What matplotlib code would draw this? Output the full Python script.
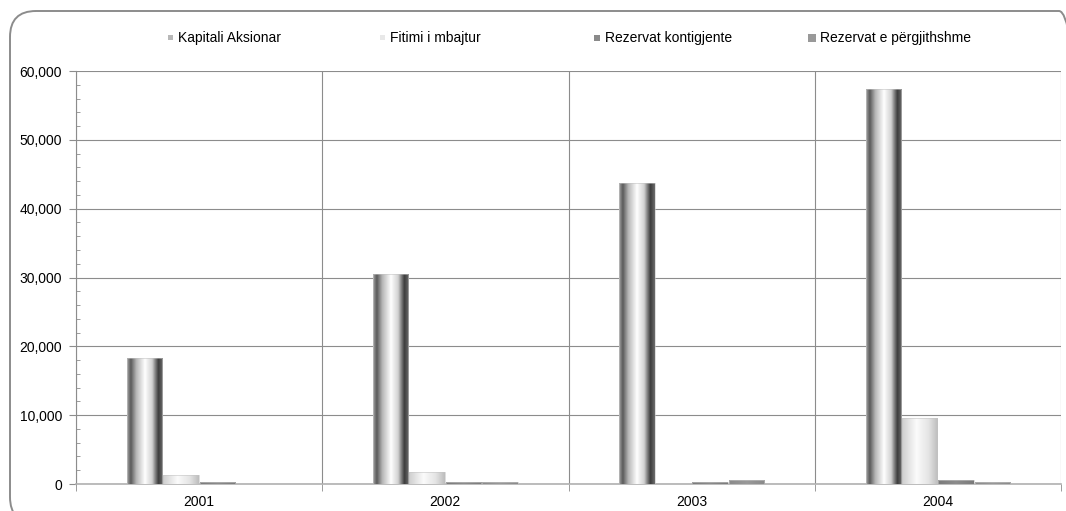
import matplotlib
matplotlib.use('Agg')
import matplotlib.pyplot as plt
import numpy as np
from matplotlib.colors import LinearSegmentedColormap
from matplotlib.patches import FancyBboxPatch, Rectangle
from matplotlib.ticker import FuncFormatter, MultipleLocator

plt.rcParams['font.family'] = ['Liberation Sans', 'DejaVu Sans']

years = ['2001', '2002', '2003', '2004']
series_names = ['Kapitali Aksionar', 'Fitimi i mbajtur', 'Rezervat kontigjente', 'Rezervat e përgjithshme']
kapitali = [18300, 30500, 43700, 57400]
fitimi = [1300, 1700, 0, 9600]
rezervat_k = [300, 300, 300, 600]
rezervat_p = [0, 300, 600, 300]

# shading for each series, left to right across the bar (cylinder look)
cmaps = [
    LinearSegmentedColormap.from_list('kap', [(0, '#a0a0a0'), (0.1, '#5a5a5a'), (0.25, '#b4b4b4'),
                                              (0.5, '#ffffff'), (0.7, '#d2d2d2'), (0.88, '#3c3c3c'),
                                              (1, '#6a6a6a')]),
    LinearSegmentedColormap.from_list('fit', [(0, '#cfcfcf'), (0.4, '#fbfbfb'), (0.75, '#e4e4e4'),
                                              (1, '#bdbdbd')]),
    LinearSegmentedColormap.from_list('rk', [(0, '#7a7a7a'), (0.5, '#8c8c8c'), (1, '#7a7a7a')]),
    LinearSegmentedColormap.from_list('rp', [(0, '#8a8a8a'), (0.5, '#999999'), (1, '#8a8a8a')]),
]
legend_colors = ['#b8b8b8', '#e8e8e8', '#8a8a8a', '#999999']
legend_sizes = [5, 5, 6, 8]

W, H = 1066, 511
fig = plt.figure(figsize=(W / 100, H / 100), dpi=100)
ax = fig.add_axes([76 / W, 1 - 484 / H, (1061 - 76) / W, (484 - 71) / H])

x = np.arange(len(years))
w = 0.148
grad = np.linspace(0, 1, 64).reshape(1, -1)
all_series = [kapitali, fitimi, rezervat_k, rezervat_p]
for i, vals in enumerate(all_series):
    pos = x + (i - 1.5) * w
    bars = ax.bar(pos, vals, width=w * 0.97, color='none', edgecolor='#c4c4c4', linewidth=0.4, zorder=3)
    for b in bars:
        if b.get_height() <= 0:
            continue
        im = ax.imshow(grad, cmap=cmaps[i], aspect='auto', zorder=2.9,
                       extent=[b.get_x(), b.get_x() + b.get_width(), 0, b.get_height()])
        im.set_clip_path(b)

ax.set_xlim(-0.5, 3.5)
ax.set_ylim(0, 60000)
ax.set_yticks(np.arange(0, 60001, 10000))
ax.yaxis.set_minor_locator(MultipleLocator(2000))
ax.yaxis.set_major_formatter(FuncFormatter(lambda v, p: f'{int(v):,}'))
ax.set_xticks(x)
ax.set_xticklabels(years)
ax.set_xticks(np.arange(-0.5, 4, 1), minor=True)
ax.tick_params(axis='x', which='major', length=0, labelsize=10, pad=8)
ax.tick_params(axis='x', which='minor', length=5, color='#8c8c8c')
ax.tick_params(axis='y', which='major', length=5, color='#8c8c8c', labelsize=10, pad=5)
ax.tick_params(axis='y', which='minor', length=3, direction='in', color='#8c8c8c')
ax.grid(axis='y', which='major', color='#8c8c8c', linewidth=0.8, zorder=0)
ax.grid(axis='x', which='minor', color='#8c8c8c', linewidth=0.8, zorder=0)
for s in ['top', 'right']:
    ax.spines[s].set_visible(False)
ax.spines['left'].set_color('#8c8c8c')
ax.spines['bottom'].set_color('#b0b0b0')
ax.spines['bottom'].set_linewidth(1.2)
ax.set_axisbelow(True)

# legend drawn by hand so the entries sit at the same spacing as the original
legend_x = [170, 382, 597, 812]
legend_y = 1 - 38 / H
for i, name in enumerate(series_names):
    s = legend_sizes[i]
    fig.patches.append(Rectangle(((legend_x[i] - s / 2) / W, legend_y - s / 2 / H), s / W, s / H,
                                 transform=fig.transFigure, facecolor=legend_colors[i],
                                 edgecolor='none'))
    fig.text((legend_x[i] + 8) / W, legend_y, name, fontsize=10, va='center', ha='left')

# rounded frame, cut off by the image on the right and bottom
border = FancyBboxPatch((10 / W, -12 / H), 1075 / W, (H - 11 + 12) / H,
                        boxstyle='round,pad=0,rounding_size=%f' % (26 / W),
                        transform=fig.transFigure, fill=False, edgecolor='#8c8c8c', linewidth=1.4,
                        mutation_aspect=W / H)
fig.patches.append(border)

fig.savefig('out.png', dpi=100)
